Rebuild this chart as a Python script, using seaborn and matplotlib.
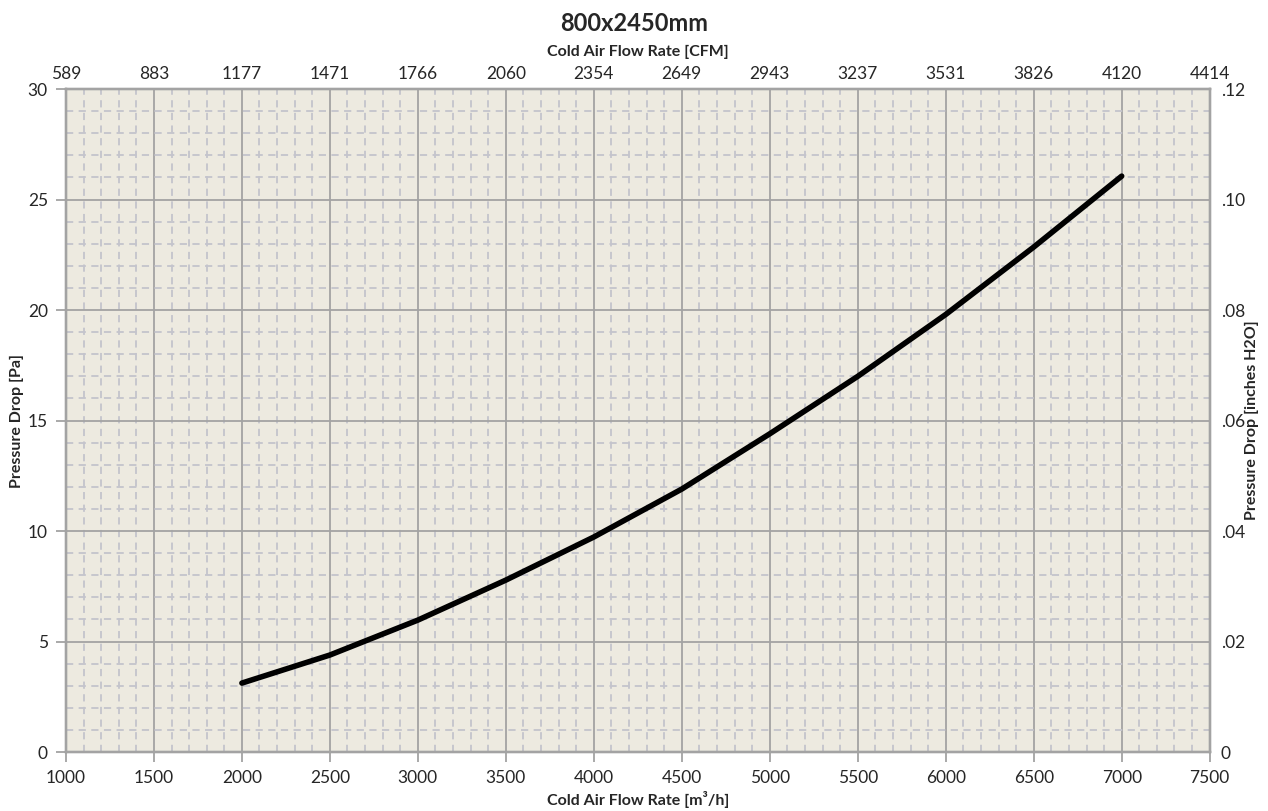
import numpy as np
import pandas as pd
import matplotlib.pyplot as plt
from matplotlib.ticker import MultipleLocator
import seaborn as sns

# values
flow_m3h = [2000, 2500, 3000, 3500, 4000, 4500, 5000, 5500, 6000, 6500, 7000]
pressure_pa = [3.12, 4.39, 5.97, 7.78, 9.73, 11.9, 14.4, 17.0, 19.8, 22.85, 26.06]

x_ticks = [1000, 1500, 2000, 2500, 3000, 3500, 4000, 4500, 5000, 5500, 6000, 6500, 7000, 7500]
cfm_labels = ["589", "883", "1177", "1471", "1766", "2060", "2354", "2649",
              "2943", "3237", "3531", "3826", "4120", "4414"]
inch_ticks = [0, 0.02, 0.04, 0.06, 0.08, 0.10, 0.12]
inch_labels = ["0", ".02", ".04", ".06", ".08", ".10", ".12"]

sns.set_style("white")
plt.rcParams["font.family"] = ["Lato", "DejaVu Sans"]

df = pd.DataFrame({"flow": flow_m3h, "dp": pressure_pa})

grid_major = "#A3A3A3"
grid_minor = "#C4C4CC"
tick_fs = 12.5
label_fs = 11.5

fig = plt.figure(figsize=(12.68, 8.11), dpi=100)
ax = fig.add_axes([0.052, 0.0727, 0.902, 0.8175])
ax.set_facecolor("#EDEAE0")

ax.set_xlim(1000, 7500)
ax.set_ylim(0, 30)
ax.xaxis.set_major_locator(MultipleLocator(500))
ax.xaxis.set_minor_locator(MultipleLocator(100))
ax.yaxis.set_major_locator(MultipleLocator(5))
ax.yaxis.set_minor_locator(MultipleLocator(1))
ax.grid(which="minor", color=grid_minor, linestyle=(0, (4, 3)), linewidth=1.3)
ax.grid(which="major", color=grid_major, linestyle="-", linewidth=1.3)
ax.set_axisbelow(True)

sns.lineplot(data=df, x="flow", y="dp", ax=ax, color="black", linewidth=4,
             solid_capstyle="round", solid_joinstyle="round", zorder=5)

for s in ax.spines.values():
    s.set_color(grid_major)
    s.set_linewidth(1.6)

ax.tick_params(which="major", axis="both", direction="out", length=7, width=1.3,
               color=grid_major, labelsize=tick_fs, pad=6)
ax.tick_params(which="minor", length=0)
ax.set_xticks(x_ticks)
ax.set_xlabel("Cold Air Flow Rate [m\u00b3/h]", fontsize=label_fs, fontweight="bold", va="center")
ax.set_ylabel("Pressure Drop [Pa]", fontsize=label_fs, fontweight="bold", va="center")
ax.xaxis.set_label_coords(0.5, -0.072)
ax.yaxis.set_label_coords(-0.043, 0.5)

# top axis in CFM
axt = ax.twiny()
axt.set_xlim(ax.get_xlim())
axt.set_xticks(x_ticks)
axt.set_xticklabels(cfm_labels)
axt.tick_params(axis="x", length=0, labelsize=tick_fs, pad=5)
axt.set_xlabel("Cold Air Flow Rate [CFM]", fontsize=label_fs, fontweight="bold", va="center")
axt.xaxis.set_label_coords(0.5, 1.056)

# right axis in inches H2O
axr = ax.twinx()
axr.set_ylim(0, 0.12)
axr.set_yticks(inch_ticks)
axr.set_yticklabels(inch_labels)
axr.tick_params(axis="y", length=0, labelsize=tick_fs, pad=8)
axr.set_ylabel("Pressure Drop [inches H2O]", fontsize=label_fs, fontweight="bold", va="center")
axr.yaxis.set_label_coords(1.037, 0.5)

for a in (axt, axr):
    for s in a.spines.values():
        s.set_color(grid_major)
        s.set_linewidth(1.6)

fig.suptitle("800x2450mm", fontsize=17, fontweight="bold", y=0.985)

fig.savefig("out.png", dpi=100)
